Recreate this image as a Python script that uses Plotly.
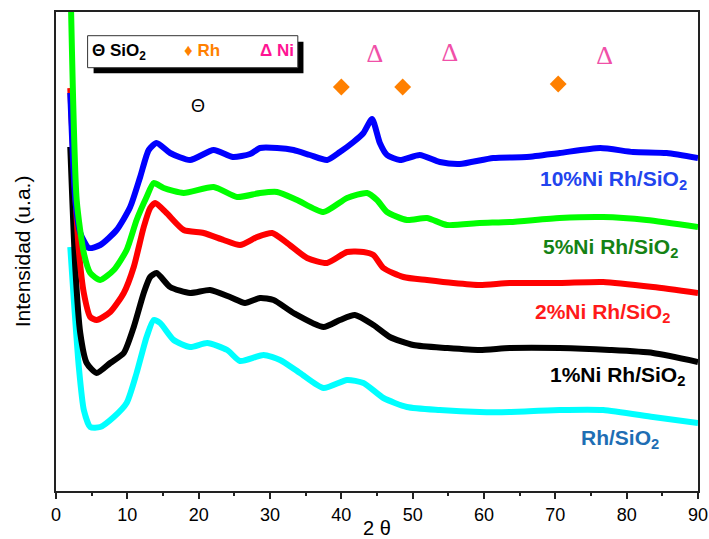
import plotly.graph_objects as go

# ---- data (2θ in degrees, intensity in arbitrary units) ----
x_10ni = [2.0, 2.7, 3.4, 4.6, 6.2, 8.5, 10.4, 11.8, 13.0, 14.1, 16.0, 18.8, 22.1, 24.8, 27.2,
          28.6, 31.0, 33.3, 35.6, 38.0, 39.8, 41.7, 43.1, 44.3, 45.4, 46.4, 48.2, 51.0, 53.8,
          56.6, 61.3, 66.0, 70.6, 76.3, 80.9, 85.6, 90.0]
y_10ni = [398, 291, 258, 243, 246, 261, 284, 314, 341, 348, 338, 331, 341, 334, 337,
          343, 343, 341, 336, 331, 339, 349, 358, 372, 348, 336, 331, 336, 329,
          327, 333, 334, 338, 343, 339, 338, 333]

x_5ni = [2.0, 2.9, 3.9, 4.8, 6.2, 8.1, 9.9, 11.3, 12.7, 13.7, 15.1, 17.9, 22.1, 25.4, 28.6,
         31.0, 33.8, 37.5, 40.8, 43.6, 45.0, 46.4, 49.2, 52.0, 54.8, 59.4, 63.6, 70.6, 76.7,
         82.8, 90.0]
y_5ni = [520, 291, 238, 218, 211, 221, 241, 271, 294, 308, 303, 298, 304, 294, 298,
         299, 291, 279, 293, 298, 291, 279, 271, 273, 266, 268, 269, 273, 274,
         271, 264]

x_2ni = [2.0, 2.5, 3.2, 3.9, 4.8, 5.7, 7.6, 9.5, 10.9, 12.3, 13.2, 13.9, 15.5, 17.9, 20.7,
         23.5, 25.8, 28.2, 30.3, 32.4, 35.2, 38.0, 40.8, 43.1, 44.5, 45.9, 48.7, 52.0, 55.7,
         59.4, 63.6, 70.6, 76.7, 83.7, 90.0]
y_2ni = [403, 324, 241, 198, 174, 171, 179, 198, 224, 264, 283, 288, 278, 261, 258,
         251, 246, 254, 258, 248, 233, 228, 239, 239, 236, 223, 214, 211, 208,
         206, 208, 208, 209, 204, 198]

x_1ni = [2.0, 2.7, 3.4, 4.3, 5.7, 7.6, 9.5, 10.9, 12.3, 13.2, 14.1, 16.0, 18.8, 21.6, 24.4,
         26.5, 28.6, 30.5, 33.3, 37.5, 39.8, 41.9, 44.5, 46.8, 50.1, 54.8, 59.4, 63.6, 70.6,
         77.6, 83.7, 90.0]
y_1ni = [344, 224, 158, 128, 118, 128, 138, 164, 198, 214, 218, 204, 198, 201, 194,
         188, 193, 191, 178, 164, 171, 176, 166, 154, 146, 143, 141, 143, 143,
         141, 138, 129]

x_rh = [2.0, 2.5, 3.2, 3.9, 4.8, 6.2, 8.1, 9.9, 11.3, 12.7, 13.7, 14.6, 16.5, 18.8, 21.2,
        24.0, 25.8, 29.1, 31.4, 34.2, 37.5, 40.8, 43.1, 45.9, 49.2, 53.8, 59.4, 63.6, 70.6,
        76.7, 83.7, 90.0]
y_rh = [244, 191, 124, 81, 64, 64, 74, 88, 118, 154, 171, 168, 151, 144, 148,
        141, 130, 136, 131, 118, 103, 111, 108, 93, 84, 81, 79, 79, 81,
        81, 74, 68]

# phase reflection markers
sio2_x = [19.9]
sio2_y = [384]
rh_x = [40.0, 48.6, 70.4]
rh_y = [404, 404, 407]
ni_x = [44.7, 55.2, 76.9]
ni_y = [436, 437, 434]

x_ticks = [0, 10, 20, 30, 40, 50, 60, 70, 80, 90]

series = [
    ("Rh/SiO<sub>2</sub>", x_rh, y_rh, "#00FFFF", "#1E6EB4", 79.0, 52),
    ("1%Ni Rh/SiO<sub>2</sub>", x_1ni, y_1ni, "#000000", "#000000", 78.7, 115),
    ("2%Ni Rh/SiO<sub>2</sub>", x_2ni, y_2ni, "#FF0000", "#FF1A1A", 76.6, 178),
    ("10%Ni Rh/SiO<sub>2</sub>", x_10ni, y_10ni, "#0000FF", "#2244EE", 78.1, 311),
    ("5%Ni Rh/SiO<sub>2</sub>", x_5ni, y_5ni, "#00FF00", "#148214", 77.7, 243),
]

fig = go.Figure()
annotations = []
for name, xs, ys, lc, tc, lx, ly in series:
    fig.add_trace(go.Scatter(x=xs, y=ys, mode="lines",
                             line=dict(color=lc, width=6, shape="spline", smoothing=0.6),
                             showlegend=False, hoverinfo="skip"))
    annotations.append(dict(x=lx, y=ly, xref="x", yref="y", text="<b>" + name + "</b>",
                            showarrow=False, font=dict(family="Arial", size=21, color=tc),
                            xanchor="center", yanchor="middle"))

# Rh diamonds
fig.add_trace(go.Scatter(x=rh_x, y=rh_y, mode="markers",
                         marker=dict(symbol="diamond", size=13, color="#FF8000"),
                         showlegend=False, hoverinfo="skip"))
# Ni triangles
fig.add_trace(go.Scatter(x=ni_x, y=ni_y, mode="text", text=["Δ"] * len(ni_x),
                         textfont=dict(family="Liberation Serif", size=26, color="#F050A8"),
                         showlegend=False, hoverinfo="skip"))
# SiO2 theta
fig.add_trace(go.Scatter(x=sio2_x, y=sio2_y, mode="text", text=["Θ"],
                         textfont=dict(family="Arial", size=18, color="#000000"),
                         showlegend=False, hoverinfo="skip"))

# key box (shadow + box)
shapes = [
    dict(type="rect", xref="x", yref="y", x0=5.27, x1=34.69, y0=417.7, y1=449.3,
         fillcolor="#000000", line=dict(width=0), layer="above"),
    dict(type="rect", xref="x", yref="y", x0=4.43, x1=33.90, y0=423.3, y1=455.3,
         fillcolor="#FFFFFF", line=dict(color="#333333", width=1), layer="above"),
]
annotations += [
    dict(x=8.9, y=439, xref="x", yref="y", text="<b>Θ SiO<sub>2</sub></b>", showarrow=False,
         font=dict(family="Arial", size=17, color="#000000")),
    dict(x=20.4, y=441, xref="x", yref="y", text="<b>♦ Rh</b>", showarrow=False,
         font=dict(family="Arial", size=17, color="#FF8000")),
    dict(x=31.0, y=441, xref="x", yref="y", text="<b>Δ Ni</b>", showarrow=False,
         font=dict(family="Arial", size=17, color="#FF1493")),
]

fig.update_layout(
    width=709, height=539,
    margin=dict(l=56, r=11, t=12, b=48),
    paper_bgcolor="white", plot_bgcolor="white",
    shapes=shapes, annotations=annotations,
    xaxis=dict(range=[0, 90], tickvals=x_ticks, ticks="outside", ticklen=6, tickwidth=1.5,
               tickcolor="#222222", showline=True, linecolor="#222222", linewidth=2,
               mirror=True, showgrid=False, zeroline=False, automargin=False,
               minor=dict(dtick=5, ticks="outside", ticklen=3, tickwidth=1.5, tickcolor="#222222"),
               tickfont=dict(family="Arial", size=18, color="#000000"),
               title=dict(text="2 θ", standoff=0,
                          font=dict(family="Arial", size=20, color="#000000"))),
    yaxis=dict(range=[0, 479], showticklabels=False, ticks="", showline=True,
               linecolor="#222222", linewidth=2, mirror=True, showgrid=False, zeroline=False,
               automargin=False,
               title=dict(text="Intensidad (u.a.)", standoff=18,
                          font=dict(family="Arial", size=21, color="#000000"))),
)

fig.write_html("out.html")
